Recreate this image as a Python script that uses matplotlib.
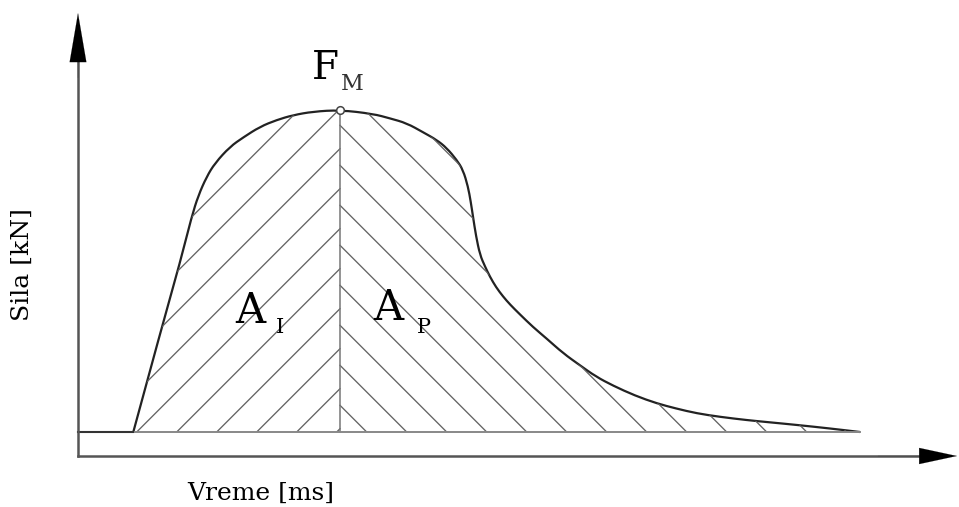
import numpy as np
import matplotlib
matplotlib.use('Agg')
import matplotlib.pyplot as plt
from matplotlib.path import Path
from matplotlib.patches import PathPatch

# force pulse (time in ms, force in kN, arbitrary scale)
time_ms = [5.53, 8.5, 10.2, 11.37, 12.03, 12.87, 13.7, 15.2, 16.53, 18.2, 19.87,
           21.5, 23.5, 26.2, 29.5, 31.2, 32.87, 34.5, 35.87, 36.87, 37.87,
           38.5, 39.0, 39.27, 39.5, 39.8, 40.2, 40.7, 41.2, 41.8, 42.5,
           43.2, 44.2, 45.5, 46.87, 48.5, 50.2, 51.8, 53.5, 55.7, 57.87,
           59.8, 61.87, 64.2, 66.87, 69.2, 71.87, 75.2, 78.2]
force_kn = [0.0, 33.9, 52.6, 66.9, 73.4, 79.3, 83.5, 88.6, 91.5, 94.8, 96.9,
            98.4, 99.5, 100.0, 98.8, 97.4, 95.9, 93.1, 90.7, 88.2, 84.5,
            81.4, 76.2, 71.6, 66.9, 60.9, 55.0, 51.4, 48.2, 45.0, 42.1,
            39.6, 36.5, 32.6, 29.0, 24.5, 20.7, 17.2, 14.4, 11.3, 8.9,
            7.3, 5.8, 4.7, 3.7, 3.0, 2.2, 1.1, 0.0]
peak_t = 26.2
peak_f = 100.0

fig = plt.figure(figsize=(9.59, 5.07), dpi=100)
ax = fig.add_axes([0, 0, 1, 1])
ax.set_xlim(-7.8, 88.1)
ax.set_ylim(-23.29, 134.16)
ax.axis('off')

pts = np.column_stack([time_ms, force_kn])

# smooth outline: quadratic bezier through midpoints of the read points
verts = [pts[0]]
codes = [Path.MOVETO]
for i in range(1, len(pts) - 1):
    verts += [pts[i], (pts[i] + pts[i + 1]) / 2]
    codes += [Path.CURVE3, Path.CURVE3]
verts.append(pts[-1])
codes.append(Path.LINETO)
curve = Path(verts, codes)

region = Path(verts + [pts[0], pts[0]], codes + [Path.LINETO, Path.CLOSEPOLY])
region_patch = PathPatch(region, fc='none', ec='none')
ax.add_patch(region_patch)

slope = 3.22 / 10.0  # 45 degrees on screen
hatch_col = '#636363'
for t0 in np.arange(5.87 - 40, peak_t, 4.0):
    fmax = (peak_t - t0) / slope
    ln, = ax.plot([t0, peak_t], [0, fmax], color=hatch_col, lw=0.95)
    ln.set_clip_path(region_patch)
for t0 in np.arange(40.87 - 40, 130, 4.0):
    if t0 <= peak_t:
        continue
    fmax = (t0 - peak_t) / slope
    ln, = ax.plot([t0, peak_t], [0, fmax], color=hatch_col, lw=0.95)
    ln.set_clip_path(region_patch)

# divider at peak and bottom edge
ax.plot([peak_t, peak_t], [0, peak_f], color='#777777', lw=1.1)
ax.plot([time_ms[0], time_ms[-1]], [0, 0], color='#888888', lw=1.4)
ax.plot([0, time_ms[0]], [0, 0], color='#333333', lw=1.5)

# force curve
ax.add_patch(PathPatch(curve, fc='none', ec='#222222', lw=1.6, joinstyle='round'))
ax.plot([peak_t], [peak_f], 'o', ms=5.5, mfc='white', mec='#444444', mew=1.1)

# axes with arrows
ax.plot([0, 0], [-7.45, 120], color='#555555', lw=1.8)
ax.plot([0, 84], [-7.45, -7.45], color='#555555', lw=1.8)
ax.annotate('', xy=(0, 130.1), xytext=(0, 110),
            arrowprops=dict(arrowstyle='-|>,head_length=3.5,head_width=0.6',
                            color='black', lw=0.1, mutation_scale=10, shrinkA=0, shrinkB=0))
ax.annotate('', xy=(87.9, -7.45), xytext=(80, -7.45),
            arrowprops=dict(arrowstyle='-|>,head_length=2.7,head_width=0.58',
                            color='black', lw=0.1, mutation_scale=10, shrinkA=0, shrinkB=0))

serif = 'DejaVu Serif'
ax.text(23.4, 109.6, 'F', fontsize=28, family=serif, ha='left', va='baseline')
ax.text(26.3, 106.2, 'M', fontsize=16, family=serif, ha='left', va='baseline', color='#333333')
ax.text(15.7, 33.9, 'A', fontsize=30, family=serif, ha='left', va='baseline')
ax.text(19.8, 30.7, 'I', fontsize=15, family=serif, ha='left', va='baseline')
ax.text(29.5, 34.8, 'A', fontsize=30, family=serif, ha='left', va='baseline')
ax.text(33.9, 30.7, 'P', fontsize=15, family=serif, ha='left', va='baseline')

ax.text(-5.6, 51.9, 'Sila [kN]', fontsize=18, family=serif, rotation=90,
        ha='center', va='center')
ax.text(10.9, -21.1, 'Vreme [ms]', fontsize=18, family=serif, ha='left', va='baseline')

fig.savefig('out.png', dpi=100)
